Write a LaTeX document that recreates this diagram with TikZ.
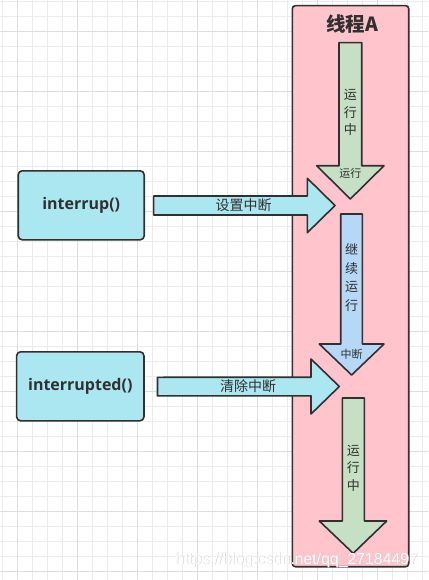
\documentclass[tikz,border=0pt]{standalone}
\usepackage{fontspec}
\setmainfont{Noto Sans CJK SC}
\newfontfamily\methodfont{Open Sans}
\newfontfamily\markfont{Liberation Sans}
\usetikzlibrary{calc,positioning}
\definecolor{gridminor}{RGB}{236,236,236}
\definecolor{gridmajor}{RGB}{222,222,222}
\definecolor{edge}{RGB}{48,48,48}
\definecolor{threadpink}{RGB}{255,196,204}
\definecolor{callcyan}{RGB}{170,231,240}
\definecolor{rungreen}{RGB}{197,224,196}
\definecolor{waitblue}{RGB}{180,216,246}

\begin{document}
\begin{tikzpicture}[x=1pt,y=-1pt,
  outline/.style={draw=edge,line width=1.6pt,line join=round},
  methodbox/.style={outline,fill=callcyan,rounded corners=4pt,minimum width=126pt,minimum height=69pt,text=edge,font=\methodfont\bfseries\fontsize{16}{19}\selectfont},
  callarrow/.style={outline,fill=callcyan},
  runarrow/.style={outline,fill=rungreen},
  waitarrow/.style={outline,fill=waitblue},
  vlabel/.style={align=center,inner sep=0pt,text=edge,font=\fontsize{13}{17.5}\selectfont},
  headlabel/.style={inner sep=0pt,text=edge,font=\fontsize{11}{13}\selectfont},
  hlabel/.style={inner sep=0pt,text=edge,font=\fontsize{14}{16}\selectfont},
  marktext/.style={inner sep=0pt,font=\markfont\fontsize{15.8}{17}\selectfont}]
\useasboundingbox (0,0) rectangle (428,580);
% grid paper
\foreach \x in {2.7,17.7,...,425} \draw[gridminor,line width=1pt] (\x,0) -- (\x,580);
\foreach \y in {1.7,16.7,...,578} \draw[gridminor,line width=1pt] (0,\y) -- (428,\y);
\foreach \x in {17.7,77.7,...,425} \draw[gridmajor,line width=1pt] (\x,0) -- (\x,580);
\foreach \y in {31.7,91.7,...,578} \draw[gridmajor,line width=1pt] (0,\y) -- (428,\y);

% thread
\node[outline,fill=threadpink,rounded corners=3pt,minimum width=116.4pt,minimum height=561pt] (threadA) at (350.5,286.2) {};
\node[text=edge,inner sep=0pt,font=\bfseries\fontsize{19.5}{21}\selectfont] (title) at (352,24.5) {线程A};

% running / interrupted / running
\draw[runarrow] (339,42.7) -- (361.7,42.7) -- (361.7,165.7) -- (384,165.7) -- (350.3,199) -- (316.7,165.7) -- (339,165.7) -- cycle;
\node[vlabel] (run1) at (350.3,112.5) {运\\行\\中};
\node[headlabel] (run1head) at (350.3,173) {运行};

\draw[waitarrow] (340.7,214) -- (362.3,214) -- (362.3,344) -- (384,344) -- (351.6,375) -- (319.3,344) -- (340.7,344) -- cycle;
\node[vlabel,font=\fontsize{13}{18.5}\selectfont] (goon) at (351.5,277.5) {继\\续\\运\\行};
\node[headlabel] (goonhead) at (351.5,354) {中断};

\draw[runarrow] (342.3,398) -- (364.3,398) -- (364.3,521) -- (386.7,521) -- (353.2,553.3) -- (319.3,521) -- (342.3,521) -- cycle;
\node[vlabel] (run2) at (353.3,468) {运\\行\\中};

% methods
\node[methodbox] (interrup) at (81.2,205.3) {interrup()};
\node[methodbox,minimum width=127.3pt] (interrupted) at (80.3,386.3) {interrupted()};

\coordinate (settail) at ($(interrup.east)+(8.6,0.2)$);
\coordinate (settip) at (335,205.5);
\draw[callarrow] ($(settail)+(0,-9.5)$) -- ($(settip)+(-27.7,-9.5)$) -- ($(settip)+(-27.7,-27.2)$) -- (settip)
  -- ($(settip)+(-27.7,27.2)$) -- ($(settip)+(-27.7,9.5)$) -- ($(settail)+(0,9.5)$) -- cycle;
\node[hlabel] (setlabel) at (243.5,205) {设置中断};

\coordinate (cleartail) at ($(interrupted.east)+(12.7,0.3)$);
\coordinate (cleartip) at (339.3,386.5);
\draw[callarrow] ($(cleartail)+(0,-9.3)$) -- ($(cleartip)+(-28.3,-9.3)$) -- ($(cleartip)+(-28.3,-27.5)$) -- (cleartip)
  -- ($(cleartip)+(-28.3,27.5)$) -- ($(cleartip)+(-28.3,9.3)$) -- ($(cleartail)+(0,9.3)$) -- cycle;
\node[hlabel] (clearlabel) at (248,386) {清除中断};

% watermark
\node[marktext,text=black!22] (markshade) at (297.2,560.6) {https://blog.csdn.net/qq\_27184497};
\node[marktext,text=white] (mark) at (296.7,560) {https://blog.csdn.net/qq\_27184497};
\end{tikzpicture}
\end{document}
